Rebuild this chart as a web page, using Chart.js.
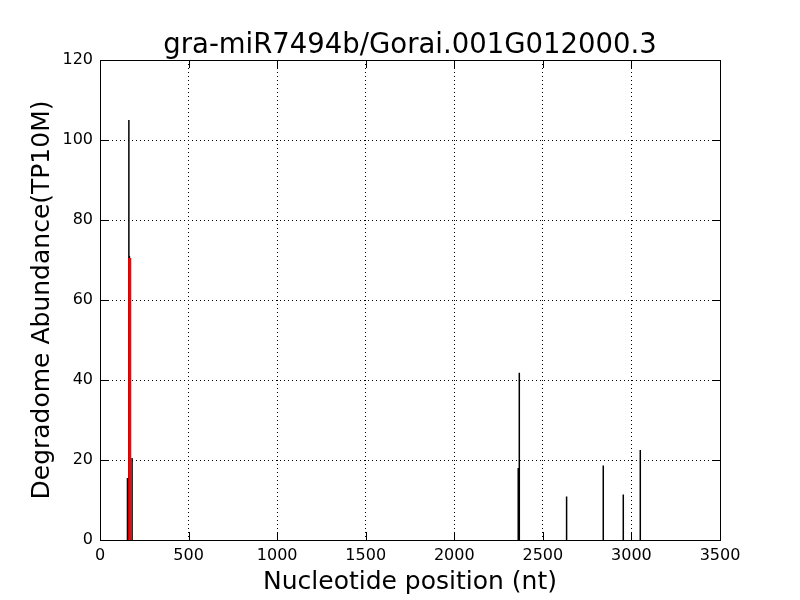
<!DOCTYPE html>
<html>
<head>
<meta charset="utf-8">
<script src="https://cdn.jsdelivr.net/npm/chart.js@4"></script>
<style>
  body { margin: 0; background: #fff; }
  #wrap { width: 800px; height: 600px; }
</style>
</head>
<body>
<div id="wrap"><canvas id="chart" width="800" height="600"></canvas></div>
<script>
// degradome reads (nt position, abundance)
const positions = [155, 163, 166, 170, 181, 2361, 2367, 2634, 2841, 2954, 3050];
const abundance = [15.5, 105, 71, 65.8, 20.5, 18, 41.8, 10.9, 18.6, 11.4, 22.5];
// predicted cleavage site
const sitePos = [168];
const siteVal = [70.5];
const xTicks = [0, 500, 1000, 1500, 2000, 2500, 3000, 3500];
const yTicks = [0, 20, 40, 60, 80, 100, 120];

function spikes(xs, ys) {
  const out = [];
  xs.forEach((x, i) => {
    out.push({x: x, y: 0}, {x: x, y: ys[i]}, {x: x, y: null});
  });
  return out;
}

const font = 'DejaVu Sans';

const frame = {
  id: 'frame',
  afterDraw(chart) {
    const {ctx, chartArea: a, scales} = chart;
    ctx.save();
    ctx.strokeStyle = '#000';
    ctx.lineWidth = 1;
    // inward ticks
    ctx.beginPath();
    xTicks.forEach(v => {
      const px = Math.round(scales.x.getPixelForValue(v)) + 0.5;
      ctx.moveTo(px, a.bottom); ctx.lineTo(px, a.bottom - 8);
      ctx.moveTo(px, a.top); ctx.lineTo(px, a.top + 8);
    });
    yTicks.forEach(v => {
      const py = Math.round(scales.y.getPixelForValue(v)) + 0.5;
      ctx.moveTo(a.left, py); ctx.lineTo(a.left + 8, py);
      ctx.moveTo(a.right, py); ctx.lineTo(a.right - 8, py);
    });
    ctx.stroke();
    ctx.strokeRect(a.left + 0.5, a.top + 0.5, a.right - a.left, a.bottom - a.top);
    // title
    ctx.fillStyle = '#000';
    ctx.font = '27.5px "' + font + '"';
    ctx.textAlign = 'center';
    ctx.textBaseline = 'alphabetic';
    ctx.fillText('gra-miR7494b/Gorai.001G012000.3', (a.left + a.right) / 2, 53);
    ctx.restore();
  }
};

new Chart(document.getElementById('chart'), {
  type: 'line',
  data: {
    datasets: [
      {
        data: spikes(positions, abundance),
        borderColor: '#000',
        borderWidth: 1.5,
        pointRadius: 0,
        spanGaps: false,
        order: 2
      },
      {
        data: spikes(sitePos, siteVal),
        borderColor: '#ff0000',
        borderWidth: 3,
        pointRadius: 0,
        spanGaps: false,
        order: 1
      }
    ]
  },
  plugins: [frame],
  options: {
    responsive: false,
    animation: false,
    layout: { padding: { top: 60, right: 80, left: 0, bottom: 0 } },
    plugins: { legend: { display: false }, tooltip: { enabled: false } },
    scales: {
      x: {
        type: 'linear',
        min: 0, max: 3500,
        afterBuildTicks(s) { s.ticks = xTicks.map(v => ({value: v})); },
        afterFit(s) { s.height = 60; },
        grid: { color: '#000', lineWidth: 1, drawTicks: false },
        border: { display: false, dash: [1, 3] },
        ticks: { color: '#000', font: { family: font, size: 16 }, padding: 6, maxRotation: 0,
                 callback: v => String(v) },
        title: { display: true, text: 'Nucleotide position (nt)', color: '#000', font: { family: font, size: 25 }, padding: { top: 0, bottom: 3 } }
      },
      y: {
        min: 0, max: 120,
        afterBuildTicks(s) { s.ticks = yTicks.map(v => ({value: v})); },
        afterFit(s) { s.width = 100; },
        grid: { color: '#000', lineWidth: 1, drawTicks: false },
        border: { display: false, dash: [1, 3] },
        ticks: { color: '#000', font: { family: font, size: 16 }, padding: 7,
                 callback: v => String(v) },
        title: { display: true, text: 'Degradome Abundance(TP10M)', color: '#000', font: { family: font, size: 25 }, padding: { top: 27, bottom: 0 } }
      }
    }
  }
});
</script>
</body>
</html>
